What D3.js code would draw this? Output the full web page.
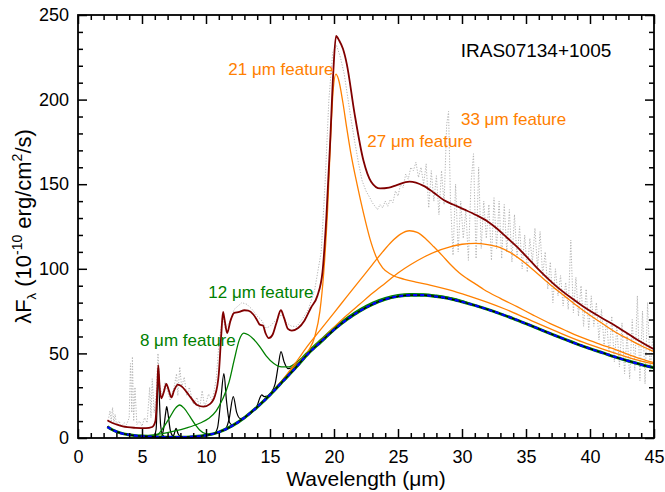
<!DOCTYPE html>
<html>
<head>
<meta charset="utf-8">
<script src="https://cdn.jsdelivr.net/npm/d3@7"></script>
<style>
  body { margin: 0; background: #fff; }
  svg { font-family: Arial, "Liberation Sans", sans-serif; }
</style>
</head>
<body>
<svg id="chart" width="665" height="492"></svg>
<script>
// ---- data (wavelength in um, lambda*F_lambda in 1e-10 erg/cm2/s) ----
var xMajor = [0, 5, 10, 15, 20, 25, 30, 35, 40, 45];
var yMajor = [0, 50, 100, 150, 200, 250];

// observed spectrum (grey dotted)
var observed = [
  [2.4, 12], [2.5, 16], [2.6, 10], [2.7, 18], [2.8, 9], [2.9, 14], [3.0, 8], [3.2, 10], [3.4, 7],
  [3.6, 9], [3.8, 8], [4.0, 12], [4.1, 44], [4.2, 15], [4.25, 48], [4.35, 10], [4.45, 30], [4.6, 8],
  [4.8, 10], [5.0, 7], [5.2, 12], [5.4, 9], [5.6, 30], [5.7, 12], [5.8, 35], [5.95, 15], [6.1, 25],
  [6.25, 50], [6.4, 30], [6.6, 25], [6.8, 33], [7.0, 28], [7.2, 22], [7.5, 30], [7.7, 38], [7.8, 25],
  [7.95, 42], [8.1, 30], [8.3, 36], [8.5, 25], [8.7, 30], [9.0, 20], [9.3, 24], [9.5, 17], [9.7, 28],
  [9.9, 18], [10.2, 26], [10.5, 22], [10.8, 35], [11.0, 55], [11.3, 72], [11.5, 65], [11.8, 68],
  [12.2, 76], [12.5, 78], [12.8, 80], [13.2, 79], [13.6, 76], [14.0, 72], [14.3, 70], [14.7, 65],
  [15.0, 66], [15.5, 70], [15.9, 73], [16.3, 68], [16.7, 66], [17.1, 66], [17.5, 70], [18.0, 76],
  [18.5, 88], [19.0, 110], [19.3, 150], [19.6, 200], [19.9, 228], [20.2, 232], [20.5, 225], [20.8, 215],
  [21.0, 205], [21.3, 190], [21.6, 176], [21.9, 163], [22.2, 152], [22.5, 146], [22.8, 142], [23.0, 139],
  [23.2, 137], [23.4, 135], [23.6, 138], [23.8, 136], [24.0, 140], [24.2, 137], [24.4, 141], [24.6, 139],
  [24.8, 146], [25.0, 143], [25.2, 150], [25.4, 148], [25.6, 156], [25.8, 153], [26.0, 160], [26.2, 158],
  [26.4, 163], [26.6, 154], [26.8, 160], [27.0, 150], [27.2, 162], [27.4, 136], [27.6, 158], [27.8, 140],
  [28.0, 155], [28.2, 132], [28.4, 158], [28.6, 138], [28.8, 185], [28.95, 193], [29.1, 140], [29.3, 108],
  [29.5, 150], [29.7, 110], [29.9, 140], [30.1, 118], [30.3, 135], [30.5, 105], [30.7, 150], [30.9, 168],
  [31.1, 106], [31.3, 160], [31.5, 112], [31.7, 140], [31.9, 118], [32.1, 138], [32.3, 105], [32.5, 142],
  [32.7, 112], [32.9, 140], [33.1, 106], [33.3, 138], [33.5, 110], [33.7, 135], [33.9, 104], [34.1, 132],
  [34.3, 106], [34.5, 125], [34.7, 100], [34.9, 120], [35.1, 98], [35.3, 118], [35.5, 104], [35.7, 124],
  [35.9, 100], [36.1, 122], [36.3, 96], [36.5, 110], [36.7, 88], [36.9, 104], [37.1, 80], [37.3, 100],
  [37.5, 84], [37.7, 96], [37.9, 78], [38.1, 92], [38.3, 76], [38.5, 117], [38.7, 74], [38.9, 95],
  [39.1, 72], [39.3, 90], [39.5, 66], [39.7, 88], [39.9, 64], [40.1, 84], [40.3, 66], [40.5, 80],
  [40.7, 58], [40.9, 76], [41.1, 55], [41.3, 70], [41.5, 48], [41.7, 72], [41.9, 45], [42.1, 66],
  [42.3, 42], [42.5, 68], [42.7, 38], [42.9, 62], [43.1, 35], [43.3, 70], [43.5, 40], [43.7, 84],
  [43.9, 34], [44.1, 75], [44.3, 32], [44.5, 80], [44.7, 40], [44.9, 60], [45, 50]
];

// dust + star continuum
var continuum = [
  [2.3, 6.6], [2.5, 5.6], [3, 3.8], [3.5, 2.6], [4, 1.9], [4.5, 1.4], [5, 1.1], [6, 0.7], [7, 0.5],
  [8, 0.5], [9, 0.8], [10, 1.6], [11, 3.5], [12, 7], [13, 12], [14, 18.3], [15, 25.5], [16, 33.5],
  [17, 41.5], [18, 50], [19, 57], [20, 64], [21, 70], [22, 75], [23, 79], [24, 82], [25, 83.7],
  [26, 84.4], [27, 84.4], [28, 83.6], [29, 82.4], [30, 80.5], [31, 78.4], [32, 76], [33, 73.4],
  [34, 70.6], [35, 67.6], [36, 64.5], [37, 61.4], [38, 58.4], [39, 55.5], [40, 52.8], [41, 50.3],
  [42, 47.8], [43, 45.5], [44, 43.4], [45, 41.5]
];

// continuum + single feature, only where it departs from the continuum
var feat21 = [
  [16.5, 38.5], [17, 42.2], [17.5, 46.3], [18, 51.5], [18.5, 60], [18.9, 75], [19.2, 98], [19.5, 135],
  [19.75, 180], [19.95, 207], [20.15, 215], [20.35, 212], [20.7, 198], [21.0, 183], [21.3, 169],
  [21.8, 150], [22.3, 133], [22.8, 118], [23.3, 107], [23.8, 100.5], [24.5, 96.5], [25.5, 93.8],
  [26.5, 92], [27.5, 90.4], [29, 87.5], [30.5, 84], [32, 80.2], [33.5, 75.8], [35, 70.8], [36.5, 65.8],
  [38, 61], [39.5, 56.5], [41, 52.5], [42.5, 48.8], [44, 45.5], [45, 43.8]
];
var feat27 = [
  [15, 26], [16, 34.5], [17, 44.5], [18, 55], [19, 64.5], [20, 74], [21, 83.5], [22, 93], [23, 102.5],
  [23.8, 110], [24.5, 116], [25.2, 120.5], [25.9, 122.5], [26.5, 121.5], [27.2, 117.5], [27.8, 113],
  [28.5, 107.5], [29.1, 102.5], [29.8, 97.5], [30.4, 94.2], [31.1, 90.8], [31.7, 87.8], [33, 82.5],
  [34.3, 77.6], [35.6, 72.5], [36.9, 67.6], [38.2, 63.2], [39.5, 59], [40.8, 55.4], [42.1, 52],
  [43.5, 48], [45, 44.5]
];
var feat33 = [
  [15, 26], [16, 34.5], [17, 43], [18, 50.5], [19, 58], [20, 65.5], [21, 72.5], [22, 79], [23, 85.5],
  [24, 91.5], [25, 97.5], [26, 102.5], [27, 106.8], [28, 110.3], [29, 112.8], [30, 114.5], [31, 115],
  [32, 114.3], [33, 112.5], [34, 108.5], [35, 103], [36, 96.5], [37, 90], [38, 84], [39, 78], [40, 72.5],
  [41, 67.5], [42, 62.5], [43, 58.5], [44, 54.5], [45, 51]
];
var feat12 = [
  [4.5, 1.5], [5.5, 1.6], [6.5, 2.5], [7.5, 4], [8.5, 6], [9.5, 8.7], [10.2, 11.5], [10.8, 16],
  [11.3, 23], [11.8, 33], [12.2, 46], [12.6, 58], [12.95, 62], [13.3, 61], [13.7, 58.5], [14.2, 54],
  [14.7, 48.5], [15.3, 44], [15.9, 42], [16.5, 42], [17, 44.3], [17.5, 47.5], [18, 51.5], [19, 58.5],
  [20, 65.3], [21, 71.2], [22, 76.2], [23, 80.2], [24, 83], [25, 84.7], [26, 85.3], [27, 85.2],
  [28, 84.4], [29, 83.1], [30, 81.2]
];
var feat8 = [
  [5.5, 1], [6.2, 2], [6.7, 6.5], [7.2, 12.6], [7.6, 17.5], [7.95, 19.5], [8.3, 17.5], [8.75, 12.6],
  [9.2, 7.5], [9.5, 4.7], [10, 2.5], [10.5, 2.2], [11, 3.6]
];
// narrow PAH bands (black)
var pah62 = [[5.9, 0.7], [6.1, 5], [6.2, 25], [6.27, 41], [6.35, 25], [6.45, 8], [6.6, 2], [6.8, 0.6]];
var pah69 = [[6.5, 0.8], [6.7, 6], [6.85, 15], [6.93, 18.5], [7.02, 15], [7.2, 5], [7.4, 1.2], [7.6, 0.5]];
var pah77 = [[7.3, 0.5], [7.5, 2], [7.66, 5.7], [7.82, 2.5], [8.0, 0.8], [8.3, 0.5]];
var pah113 = [[10.6, 2.2], [10.9, 6], [11.15, 22], [11.4, 38], [11.6, 22], [11.85, 9], [12.1, 7.5], [12.4, 8.8]];
var pah120 = [[11.5, 5], [11.8, 11], [12.13, 24.4], [12.4, 15], [12.7, 11.5], [13.0, 12]];
var pah142 = [[13.6, 15.8], [14.0, 19.2], [14.2, 23.5], [14.35, 25.5], [14.55, 24.5], [14.8, 24.7], [15.0, 25.6]];
var pah158 = [[15.0, 25.7], [15.4, 32], [15.65, 43], [15.86, 51], [16.1, 45], [16.4, 41], [16.7, 41.5], [17.2, 44.5], [17.5, 46]];

// total model (dark red)
var total = [
  [2.3, 10.5], [2.5, 9.6], [3, 8], [3.5, 6.8], [4.5, 6], [5.3, 5.8], [5.8, 6.5], [6.05, 10], [6.2, 30],
  [6.27, 43], [6.36, 32], [6.5, 23.5], [6.7, 27], [6.9, 32], [7.1, 28], [7.3, 24], [7.5, 28], [7.8, 31.5],
  [8.1, 30.5], [8.5, 27], [8.8, 24], [9.3, 19.5], [9.8, 18.5], [10.3, 20], [10.7, 25], [11.0, 38],
  [11.2, 62], [11.33, 74.5], [11.45, 70], [11.65, 62], [11.9, 69], [12.2, 74], [12.6, 74.5], [13.0, 75.5],
  [13.3, 75.3], [13.7, 73], [14.0, 69.5], [14.2, 67], [14.45, 66.5], [14.65, 62], [14.9, 59], [15.2, 61],
  [15.5, 68], [15.85, 75.5], [16.1, 71], [16.4, 64.5], [16.7, 63.5], [17.2, 65], [17.7, 69.5], [18.2, 77],
  [18.7, 84], [19.1, 98], [19.4, 130], [19.7, 175], [19.95, 217], [20.16, 237.6], [20.4, 235], [20.7, 230],
  [21, 221], [21.6, 192], [22.3, 164], [22.9, 151.5], [23.6, 147.5], [24.3, 148], [24.9, 149.5],
  [25.9, 151.5], [27, 149], [27.8, 145], [28.6, 140.5], [29.3, 138], [30.2, 135], [31.1, 131.8],
  [32, 128], [32.7, 124], [33.5, 118.5], [34.3, 113], [35, 107.5], [35.8, 101], [37.4, 89.5],
  [38.5, 83], [39.5, 77.6], [40.8, 71.5], [42.1, 65.8], [43.5, 59], [45, 52.4]
];

var labels = [
  { text: "21 \u03bcm feature", x: 11.74, y: 214.5, color: "#ff8000" },
  { text: "27 \u03bcm feature", x: 22.6, y: 171.8, color: "#ff8000" },
  { text: "33 \u03bcm feature", x: 29.92, y: 185, color: "#ff8000" },
  { text: "12 \u03bcm feature", x: 10.18, y: 82.6, color: "#008000" },
  { text: "8 \u03bcm feature", x: 4.84, y: 54.4, color: "#008000" },
  { text: "IRAS07134+1005", x: 29.9, y: 225.2, color: "#000", size: 19 }
];

// ---- drawing ----
var width = 665, height = 492;
var margin = { top: 15, right: 11, bottom: 54, left: 78 };
var svg = d3.select("#chart");

var x = d3.scaleLinear().domain([0, 45]).range([margin.left, width - margin.right]);
var y = d3.scaleLinear().domain([0, 250]).range([height - margin.bottom, margin.top]);

var line = d3.line()
  .x(function (d) { return x(d[0]); })
  .y(function (d) { return y(d[1]); })
  .curve(d3.curveMonotoneX);

var rawLine = d3.line()
  .x(function (d) { return x(d[0]); })
  .y(function (d) { return y(d[1]); });

// a feature curve sits on the continuum outside the part read as the feature
function onContinuum(feat) {
  var lo = feat[0][0], hi = feat[feat.length - 1][0];
  return continuum.filter(function (p) { return p[0] < lo; })
    .concat(feat, continuum.filter(function (p) { return p[0] > hi; }));
}

var plot = svg.append("g");

plot.append("path")
  .attr("d", rawLine(observed))
  .attr("fill", "none")
  .attr("stroke", "#b4b4b4")
  .attr("stroke-width", 1)
  .attr("stroke-dasharray", "1.2,1.6");

[pah62, pah69, pah77, pah113, pah120, pah142, pah158].forEach(function (p) {
  plot.append("path").attr("d", line(onContinuum(p)))
    .attr("fill", "none").attr("stroke", "#000").attr("stroke-width", 1.2);
});

[feat8, feat12].forEach(function (p) {
  plot.append("path").attr("d", line(onContinuum(p)))
    .attr("fill", "none").attr("stroke", "#008000").attr("stroke-width", 1.3);
});

[feat21, feat27, feat33].forEach(function (p) {
  plot.append("path").attr("d", line(onContinuum(p)))
    .attr("fill", "none").attr("stroke", "#ff8000").attr("stroke-width", 1.3);
});

// continuum: green/black under a blue dashed line
plot.append("path").attr("d", line(continuum))
  .attr("fill", "none").attr("stroke", "#008000").attr("stroke-width", 3);
plot.append("path").attr("d", line(continuum))
  .attr("fill", "none").attr("stroke", "#000").attr("stroke-width", 1.2);
plot.append("path").attr("d", line(continuum))
  .attr("fill", "none").attr("stroke", "#0000ff").attr("stroke-width", 2.2)
  .attr("stroke-dasharray", "4,3");

plot.append("path").attr("d", line(total))
  .attr("fill", "none").attr("stroke", "#800000").attr("stroke-width", 1.8);

// ---- axes, ticks inward on all four sides ----
var xMinor = d3.range(0, 46, 1).filter(function (v) { return v % 5 !== 0; });
var yMinor = d3.range(0, 251, 10).filter(function (v) { return v % 50 !== 0; });

function styleAxis(g) {
  g.select(".domain").remove();
  g.selectAll("line").attr("stroke", "#000").attr("stroke-width", 1.5);
  g.attr("font-size", 18).attr("font-family", "Arial, 'Liberation Sans', sans-serif");
  g.selectAll("text").attr("fill", "#000");
}

svg.append("g").attr("transform", "translate(0," + y(0) + ")")
  .call(d3.axisBottom(x).tickValues(xMajor).tickSize(-9).tickPadding(12).tickFormat(d3.format("d")))
  .call(styleAxis);
svg.append("g").attr("transform", "translate(0," + y(0) + ")")
  .call(d3.axisBottom(x).tickValues(xMinor).tickSize(-5).tickFormat(""))
  .call(styleAxis);
svg.append("g").attr("transform", "translate(0," + y(250) + ")")
  .call(d3.axisTop(x).tickValues(xMajor).tickSize(-9).tickFormat(""))
  .call(styleAxis);
svg.append("g").attr("transform", "translate(0," + y(250) + ")")
  .call(d3.axisTop(x).tickValues(xMinor).tickSize(-5).tickFormat(""))
  .call(styleAxis);

svg.append("g").attr("transform", "translate(" + x(0) + ",0)")
  .call(d3.axisLeft(y).tickValues(yMajor).tickSize(-9).tickPadding(9).tickFormat(d3.format("d")))
  .call(styleAxis);
svg.append("g").attr("transform", "translate(" + x(0) + ",0)")
  .call(d3.axisLeft(y).tickValues(yMinor).tickSize(-5).tickFormat(""))
  .call(styleAxis);
svg.append("g").attr("transform", "translate(" + x(45) + ",0)")
  .call(d3.axisRight(y).tickValues(yMajor).tickSize(-9).tickFormat(""))
  .call(styleAxis);
svg.append("g").attr("transform", "translate(" + x(45) + ",0)")
  .call(d3.axisRight(y).tickValues(yMinor).tickSize(-5).tickFormat(""))
  .call(styleAxis);

svg.append("rect")
  .attr("x", x(0)).attr("y", y(250))
  .attr("width", x(45) - x(0)).attr("height", y(0) - y(250))
  .attr("fill", "none").attr("stroke", "#000").attr("stroke-width", 1.8);

// ---- titles ----
svg.append("text")
  .attr("x", (x(0) + x(45)) / 2).attr("y", 486)
  .attr("text-anchor", "middle").attr("font-size", 21)
  .text("Wavelength (\u03bcm)");

var yt = svg.append("text")
  .attr("transform", "translate(31," + (y(0) + y(250)) / 2 + ") rotate(-90)")
  .attr("text-anchor", "middle").attr("font-size", 22);
yt.append("tspan").text("\u03bbF");
yt.append("tspan").attr("font-size", 13).attr("dy", 5).text("\u03bb");
yt.append("tspan").attr("dy", -5).text(" (10");
yt.append("tspan").attr("font-size", 14).attr("dy", -9).text("-10");
yt.append("tspan").attr("dy", 9).text(" erg/cm");
yt.append("tspan").attr("font-size", 14).attr("dy", -9).text("2");
yt.append("tspan").attr("dy", 9).text("/s)");

svg.selectAll(".anno")
  .data(labels)
  .enter()
  .append("text")
  .attr("class", "anno")
  .attr("x", function (d) { return x(d.x); })
  .attr("y", function (d) { return y(d.y); })
  .attr("fill", function (d) { return d.color; })
  .attr("font-size", function (d) { return d.size || 17; })
  .text(function (d) { return d.text; });
</script>
</body>
</html>
